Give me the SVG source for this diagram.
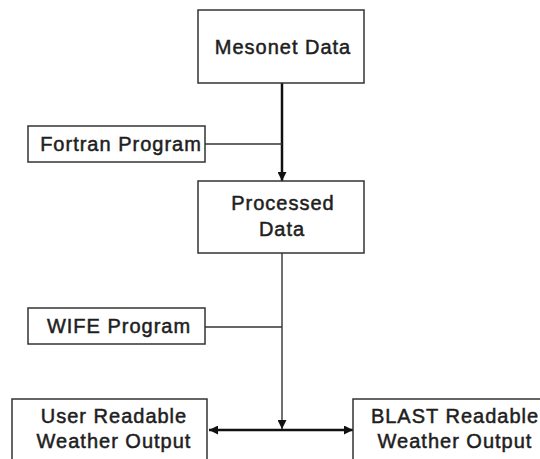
<svg xmlns="http://www.w3.org/2000/svg" width="540" height="459" viewBox="0 0 540 459">
  <style>
    .box { fill: #ffffff; stroke: #333333; stroke-width: 1.5; }
    .label { font-family: "Liberation Sans", Arial, sans-serif; font-size: 20px; letter-spacing: 1px; fill: #1e1e1e; stroke: #1e1e1e; stroke-width: 0.5; text-anchor: middle; }
    .thick { stroke: #111111; stroke-width: 2.5; fill: none; }
    .thin { stroke: #333333; stroke-width: 1.4; fill: none; }
  </style>
  <defs>
    <marker id="arrow" viewBox="0 0 10 10" refX="10" refY="5" markerWidth="9" markerHeight="9" markerUnits="userSpaceOnUse" orient="auto-start-reverse">
      <path d="M0,0 L10,5 L0,10 z" fill="#111111"/>
    </marker>
  </defs>
  <rect width="540" height="459" fill="#ffffff"/>

  <g id="connectors">
    <!-- Mesonet to Processed -->
    <line class="thick" x1="282" y1="83" x2="282" y2="181" marker-end="url(#arrow)"/>
    <!-- Fortran program joins the flow -->
    <line class="thin" x1="205" y1="144" x2="282" y2="144" stroke-width="2"/>
    <!-- Processed down to the output bus -->
    <line class="thin" x1="282" y1="253" x2="282" y2="429" marker-end="url(#arrow)"/>
    <!-- WIFE program joins the flow -->
    <line class="thin" x1="205" y1="327" x2="282" y2="327"/>
    <!-- Output bus to both readable outputs -->
    <line class="thick" x1="209" y1="430" x2="353" y2="430" marker-start="url(#arrow)" marker-end="url(#arrow)"/>
  </g>

  <g id="mesonet-data">
    <rect class="box" x="198" y="10" width="166" height="73"/>
    <text class="label" x="283" y="54">Mesonet Data</text>
  </g>

  <g id="fortran-program">
    <rect class="box" x="28" y="126" width="177" height="36"/>
    <text class="label" x="121" y="151">Fortran Program</text>
  </g>

  <g id="processed-data">
    <rect class="box" x="198" y="181" width="166" height="72"/>
    <text class="label" x="283" y="210">Processed</text>
    <text class="label" x="282" y="236">Data</text>
  </g>

  <g id="wife-program">
    <rect class="box" x="28" y="308" width="177" height="36"/>
    <text class="label" x="119" y="333">WIFE Program</text>
  </g>

  <g id="user-output">
    <rect class="box" x="12" y="399" width="195" height="70"/>
    <text class="label" x="114" y="423">User Readable</text>
    <text class="label" x="114" y="448">Weather Output</text>
  </g>

  <g id="blast-output">
    <rect class="box" x="353" y="399" width="200" height="70"/>
    <text class="label" x="455" y="423">BLAST Readable</text>
    <text class="label" x="455" y="448">Weather Output</text>
  </g>
</svg>
